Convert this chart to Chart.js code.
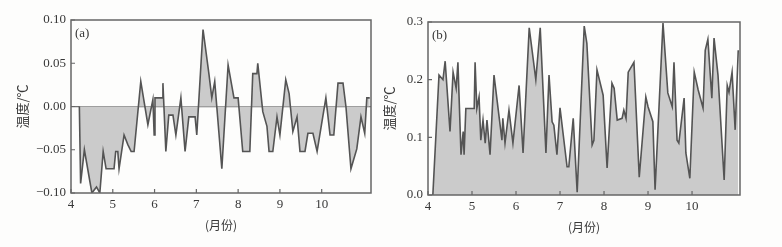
<!DOCTYPE html>
<html>
<head>
<meta charset="utf-8">
<script src="https://cdn.jsdelivr.net/npm/chart.js@4"></script>
<style>
  html, body { margin: 0; padding: 0; background: #fdfdfc; }
  #wrap { position: relative; width: 782px; height: 247px; }
  .box { position: absolute; top: 0; height: 247px; }
</style>
</head>
<body>
<div id="wrap">
  <div class="box" style="left:0;width:391px"><canvas id="chartA"></canvas></div>
  <div class="box" style="left:376px;width:406px"><canvas id="chartB"></canvas></div>
</div>
<script>
// month ticks on the x axis
const monthTicks = [4, 5, 6, 7, 8, 9, 10];

// (a) temperature anomaly, x in months
const monthsA = [
  4.20, 4.23, 4.32, 4.50, 4.61, 4.69, 4.77, 4.84, 5.03, 5.07, 5.12, 5.15,
  5.27, 5.36, 5.44, 5.51, 5.67, 5.84, 5.96, 5.99, 6.01, 6.18, 6.20, 6.27,
  6.34, 6.44, 6.51, 6.63, 6.73, 6.82, 6.97, 7.01, 7.16, 7.30, 7.37, 7.44,
  7.61, 7.76, 7.90, 8.00, 8.11, 8.28, 8.35, 8.45, 8.47, 8.59, 8.69, 8.74,
  8.83, 8.93, 9.00, 9.14, 9.22, 9.31, 9.41, 9.48, 9.60, 9.67, 9.79, 9.89,
  10.10, 10.20, 10.29, 10.39, 10.51, 10.58, 10.70, 10.84, 10.94, 11.03, 11.08, 11.15
];
const valuesA = [
  0.000, -0.089, -0.050, -0.100, -0.093, -0.100, -0.052, -0.072, -0.072, -0.052, -0.052, -0.072,
  -0.033, -0.044, -0.052, -0.052, 0.029, -0.021, 0.008, -0.033, 0.010, 0.010, 0.027, -0.052,
  -0.010, -0.010, -0.033, 0.010, -0.052, -0.012, -0.012, -0.033, 0.089, 0.038, 0.010, 0.029,
  -0.072, 0.048, 0.010, 0.010, -0.052, -0.052, 0.038, 0.038, 0.050, -0.006, -0.023, -0.052,
  -0.052, -0.012, -0.033, 0.031, 0.015, -0.029, -0.012, -0.052, -0.052, -0.031, -0.031, -0.052,
  0.010, -0.033, -0.033, 0.027, 0.027, 0.000, -0.072, -0.049, -0.012, -0.031, 0.010, 0.010
];
const yTicksA = [-0.10, -0.05, 0.00, 0.05, 0.10];

// (b) temperature, x in months
const monthsB = [
  4.11, 4.25, 4.34, 4.39, 4.50, 4.57, 4.64, 4.68, 4.75, 4.80, 4.82, 4.86,
  5.05, 5.07, 5.11, 5.16, 5.20, 5.25, 5.30, 5.34, 5.41, 5.50, 5.68, 5.70,
  5.75, 5.84, 5.93, 6.07, 6.16, 6.30, 6.45, 6.55, 6.68, 6.75, 6.82, 6.86,
  6.93, 7.00, 7.16, 7.20, 7.30, 7.39, 7.55, 7.61, 7.73, 7.77, 7.84, 7.98,
  8.07, 8.18, 8.23, 8.30, 8.41, 8.45, 8.50, 8.55, 8.68, 8.80, 8.95, 9.00,
  9.11, 9.16, 9.34, 9.45, 9.55, 9.59, 9.66, 9.70, 9.82, 9.86, 9.95, 10.05,
  10.14, 10.25, 10.30, 10.36, 10.45, 10.50, 10.59, 10.73, 10.80, 10.84, 10.91, 10.98,
  11.05
];
const valuesB = [
  0.000, 0.208, 0.200, 0.232, 0.110, 0.213, 0.185, 0.230, 0.070, 0.110, 0.070, 0.150,
  0.150, 0.230, 0.150, 0.170, 0.095, 0.130, 0.090, 0.130, 0.070, 0.208, 0.095, 0.133,
  0.090, 0.147, 0.090, 0.190, 0.073, 0.290, 0.200, 0.290, 0.073, 0.208, 0.127, 0.121,
  0.070, 0.151, 0.049, 0.049, 0.133, 0.005, 0.293, 0.263, 0.087, 0.095, 0.217, 0.173,
  0.047, 0.194, 0.185, 0.130, 0.133, 0.147, 0.133, 0.213, 0.230, 0.031, 0.170, 0.153,
  0.127, 0.009, 0.298, 0.177, 0.153, 0.230, 0.095, 0.090, 0.168, 0.073, 0.029, 0.213,
  0.182, 0.151, 0.251, 0.270, 0.168, 0.272, 0.208, 0.026, 0.190, 0.178, 0.213, 0.113,
  0.251
];
const yTicksB = [0.0, 0.1, 0.2, 0.3];

const textColor = '#383838';
const fontFamily = '"Liberation Serif", "DejaVu Serif", serif';
const cjkFont = '"Noto Sans CJK SC", "Liberation Serif", serif';

// frame round the plot and short inward tick marks
const framePlugin = {
  id: 'frame',
  afterDraw(chart, args, opts) {
    const { ctx, chartArea: a, scales } = chart;
    ctx.save();
    ctx.strokeStyle = '#666';
    ctx.lineWidth = 1.5;
    ctx.strokeRect(a.left, a.top, a.right - a.left, a.bottom - a.top);
    ctx.lineWidth = 1.2;
    ctx.beginPath();
    scales.x.ticks.forEach(t => {
      const px = scales.x.getPixelForValue(t.value);
      ctx.moveTo(px, a.bottom);
      ctx.lineTo(px, a.bottom - 4);
    });
    scales.y.ticks.forEach(t => {
      const py = scales.y.getPixelForValue(t.value);
      ctx.moveTo(a.left, py);
      ctx.lineTo(a.left + 4, py);
    });
    ctx.stroke();
    ctx.fillStyle = textColor;
    ctx.font = '13px ' + fontFamily;
    ctx.textBaseline = 'middle';
    ctx.fillText(opts.label, a.left + 4, a.top + 14);
    ctx.restore();
  }
};

function makeChart(id, months, values, yTicks, opt) {
  const points = months.map((m, i) => ({ x: m, y: values[i] }));
  return new Chart(document.getElementById(id), {
    type: 'line',
    data: {
      datasets: [{
        data: points,
        borderColor: '#545454',
        borderWidth: 1.6,
        backgroundColor: '#cbcbcb',
        fill: { value: 0 },
        pointRadius: 0,
        tension: 0,
      }],
    },
    options: {
      responsive: true,
      maintainAspectRatio: false,
      animation: false,
      layout: { padding: { top: opt.top, right: opt.right, left: 0, bottom: 0 } },
      plugins: {
        legend: { display: false },
        tooltip: { enabled: false },
        frame: { label: opt.label },
      },
      scales: {
        x: {
          type: 'linear',
          min: 4,
          max: opt.xMax,
          afterBuildTicks: s => { s.ticks = monthTicks.map(v => ({ value: v })); },
          afterFit: s => { s.height = opt.xHeight; },
          grid: { display: false, drawTicks: false },
          border: { display: false },
          ticks: {
            padding: 4,
            color: textColor,
            font: { family: fontFamily, size: 13 },
            callback: v => String(v),
          },
          title: {
            display: true,
            text: '(月份)',
            color: textColor,
            font: { family: cjkFont, size: 12 },
            padding: { top: 0, bottom: opt.xTitlePad },
          },
        },
        y: {
          min: yTicks[0],
          max: yTicks[yTicks.length - 1],
          afterBuildTicks: s => { s.ticks = yTicks.map(v => ({ value: v })); },
          afterFit: s => { s.width = opt.yWidth; },
          grid: {
            drawTicks: false,
            color: c => (c.tick && c.tick.value === 0 && opt.zeroLine) ? '#707070' : 'rgba(0,0,0,0)',
            lineWidth: 1.2,
          },
          border: { display: false },
          ticks: {
            padding: 5,
            color: textColor,
            font: { family: fontFamily, size: 13 },
            callback: v => (v < 0 ? '\u2212' : '') + Math.abs(v).toFixed(opt.digits),
          },
          title: {
            display: true,
            text: '温度/℃',
            color: textColor,
            font: { family: cjkFont, size: 13 },
            padding: { top: opt.yTitlePad, bottom: 0 },
          },
        },
      },
    },
    plugins: [framePlugin],
  });
}

makeChart('chartA', monthsA, valuesA, yTicksA, {
  label: '(a)', xMax: 11.18, top: 20, right: 20, xHeight: 54, yWidth: 71, digits: 2,
  zeroLine: true, xTitlePad: 14, yTitlePad: 14,
});
makeChart('chartB', monthsB, valuesB, yTicksB, {
  label: '(b)', xMax: 11.09, top: 22, right: 42, xHeight: 52, yWidth: 52, digits: 1,
  zeroLine: false, xTitlePad: 12, yTitlePad: 5,
});
</script>
</body>
</html>
